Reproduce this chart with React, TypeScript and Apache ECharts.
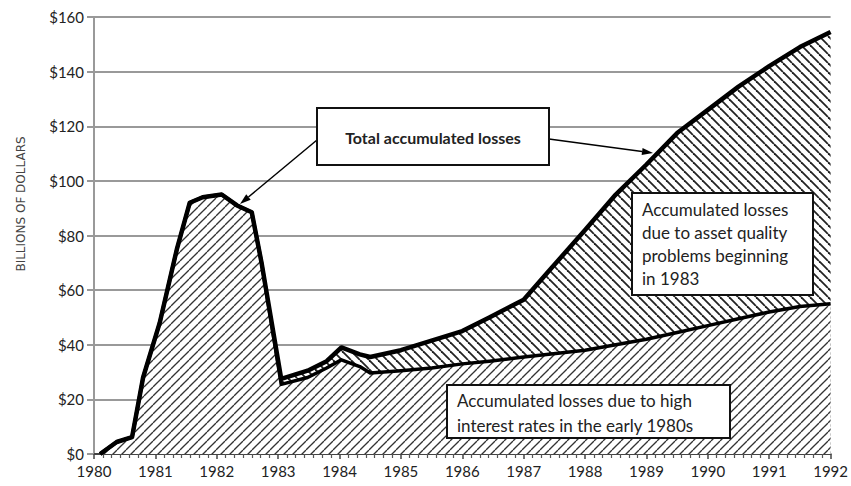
import React, { useEffect, useRef } from "react";
import * as echarts from "echarts";

const years = [
  1980.1, 1980.37, 1980.62, 1980.8, 1981.07, 1981.35, 1981.56, 1981.77, 1982.08, 1982.33, 1982.57, 1982.73,
  1983.05, 1983.48, 1983.79, 1984.03, 1984.33, 1984.5, 1985.0, 1985.5, 1986.0, 1986.44, 1987.0, 1987.41,
  1988.0, 1988.5, 1989.0, 1989.5, 1990.0, 1990.5, 1991.0, 1991.5, 1992.0,
];
const totalLosses = [
  0, 4.4, 6.2, 28, 48, 75, 92, 94, 95, 91, 88.5, 70,
  27.5, 30.5, 34, 39, 36.5, 35.5, 38, 41.5, 45, 50, 56.5, 67,
  82, 95, 106, 117.5, 126, 134.5, 142, 149, 154.5,
];
const interestRateLosses = [
  0, 4.4, 6.2, 28, 48, 75, 92, 94, 95, 91, 88.5, 70,
  25.5, 28, 31.5, 34.5, 32, 29.7, 30.5, 31.5, 33, 34, 35.5, 36.5,
  38, 40, 42, 44.5, 47, 49.5, 52, 54, 55,
];
const yTicks = [0, 20, 40, 60, 80, 100, 120, 140, 160];

const FONT = "Lato, 'Open Sans', sans-serif";

function hatch(dir: number, size: number, lw: number, color: string) {
  const c = document.createElement("canvas");
  c.width = size;
  c.height = size;
  const ctx = c.getContext("2d")!;
  ctx.fillStyle = "#fff";
  ctx.fillRect(0, 0, size, size);
  ctx.strokeStyle = color;
  ctx.lineWidth = lw;
  for (const k of [-size, 0, size]) {
    ctx.beginPath();
    if (dir > 0) {
      ctx.moveTo(k, size);
      ctx.lineTo(k + size, 0);
    } else {
      ctx.moveTo(k, 0);
      ctx.lineTo(k + size, size);
    }
    ctx.stroke();
  }
  return { image: c, repeat: "repeat", imageWidth: size, imageHeight: size } as any;
}

function arrow(x1: number, y1: number, x2: number, y2: number) {
  const dx = x2 - x1, dy = y2 - y1;
  const L = Math.sqrt(dx * dx + dy * dy);
  const ux = dx / L, uy = dy / L;
  const bx = x2 - ux * 11, by = y2 - uy * 11;
  const px = -uy * 3.5, py = ux * 3.5;
  return [
    { type: "line", shape: { x1, y1, x2: bx, y2: by }, style: { stroke: "#000", lineWidth: 1.5 }, z: 20 },
    {
      type: "polygon",
      shape: { points: [[x2, y2], [bx + px, by + py], [bx - px, by - py]] },
      style: { fill: "#000" },
      z: 20,
    },
  ];
}

function box(x: number, y: number, w: number, h: number, lines: string[], opts: any) {
  const items: any[] = [
    {
      type: "rect",
      shape: { x, y, width: w, height: h },
      style: { fill: "#fff", stroke: "#111", lineWidth: 2 },
      z: 20,
    },
  ];
  lines.forEach((t, i) => {
    items.push({
      type: "text",
      x: opts.align === "center" ? x + w / 2 : x + opts.padX,
      y: y + opts.firstY + i * opts.lineH,
      style: {
        text: t,
        fill: "#222",
        font: `${opts.weight || "normal"} ${opts.size}px ${FONT}`,
        textAlign: opts.align || "left",
        textVerticalAlign: "middle",
      },
      z: 21,
    });
  });
  return items;
}

export default function App() {
  const ref = useRef<HTMLDivElement>(null);
  useEffect(() => {
    if (!ref.current) return;
    const chart = echarts.init(ref.current, undefined, { renderer: "svg" });
    const totalPts = years.map((y, i) => [y, totalLosses[i]]);
    const lowerPts = years.map((y, i) => [y, interestRateLosses[i]]);
    chart.setOption({
      animation: false,
      backgroundColor: "#fff",
      grid: { left: 94, right: 19, top: 17, bottom: 32 },
      xAxis: {
        type: "value",
        min: 1980,
        max: 1992,
        interval: 1,
        axisLine: { show: true, lineStyle: { color: "#444", width: 2 } },
        axisTick: { show: true, length: 5, lineStyle: { color: "#444", width: 1.5 } },
        minorTick: { show: true, splitNumber: 7, length: 4, lineStyle: { color: "#555", width: 1.2 } },
        splitLine: { show: false },
        axisLabel: {
          formatter: (v: number) => String(v),
          fontSize: 15,
          color: "#222",
          fontFamily: FONT,
          margin: 9,
        },
      },
      yAxis: {
        type: "value",
        min: yTicks[0],
        max: yTicks[yTicks.length - 1],
        interval: 20,
        axisLine: { show: true, lineStyle: { color: "#999", width: 2 } },
        axisTick: { show: true, length: 7, lineStyle: { color: "#999", width: 2 } },
        splitLine: { show: true, lineStyle: { color: "#999", width: 2 } },
        axisLabel: {
          formatter: (v: number) => "$" + v,
          fontSize: 15,
          color: "#222",
          fontFamily: FONT,
          margin: 10,
        },
      },
      series: [
        {
          type: "line",
          data: totalPts,
          symbol: "none",
          lineStyle: { width: 0, opacity: 0 },
          areaStyle: { color: hatch(-1, 9, 1.8, "#222"), opacity: 1 },
          z: 2,
        },
        {
          type: "line",
          data: lowerPts,
          symbol: "none",
          lineStyle: { width: 3.5, color: "#000", join: "round" },
          areaStyle: { color: hatch(1, 9, 1.3, "#333"), opacity: 1 },
          z: 3,
        },
        {
          type: "line",
          data: totalPts,
          symbol: "none",
          lineStyle: { width: 4.5, color: "#000", join: "round" },
          z: 4,
        },
      ],
      graphic: [
        {
          type: "text",
          x: 21,
          y: 204,
          rotation: Math.PI / 2,
          style: {
            text: "BILLIONS OF DOLLARS",
            fill: "#444",
            font: `12px 'DejaVu Sans', sans-serif`,
            textAlign: "center",
            textVerticalAlign: "middle",
          },
        },
        ...arrow(317, 140, 240, 204),
        ...arrow(549, 139, 653, 153),
        ...box(317, 108, 232, 57, ["Total accumulated losses"], {
          align: "center",
          firstY: 29,
          lineH: 0,
          size: 16,
          weight: "bold",
        }),
        ...box(632, 193, 181, 102, ["Accumulated losses", "due to asset quality", "problems beginning", "in 1983"], {
          align: "left",
          padX: 10,
          firstY: 16,
          lineH: 23,
          size: 17,
        }),
        ...box(447, 385, 283, 53, ["Accumulated losses due to high", "interest rates in the early 1980s"], {
          align: "left",
          padX: 10,
          firstY: 15,
          lineH: 25,
          size: 17,
        }),
      ],
    });
    return () => chart.dispose();
  }, []);
  return <div ref={ref} style={{ width: 851, height: 486, position: "absolute", left: 0, top: 0 }} />;
}
